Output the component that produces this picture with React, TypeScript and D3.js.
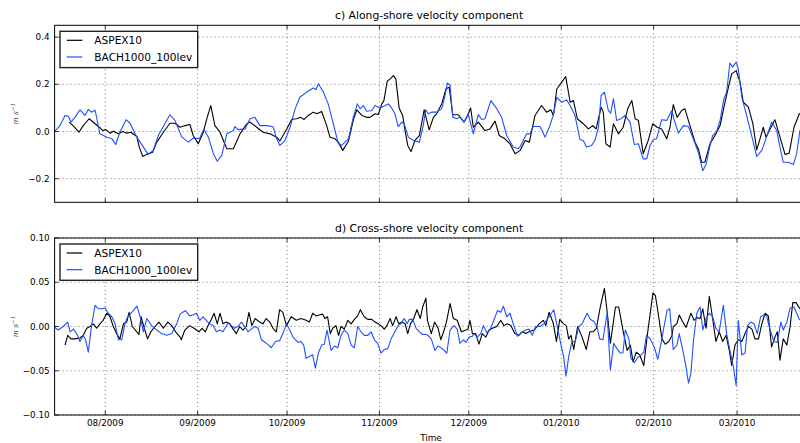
import React from "react";
import * as d3 from "d3";

// Day offsets are days after 15 Jul 2009 (UTC); values in m s^-1
const START = Date.UTC(2009, 6, 15);
const END = Date.UTC(2010, 2, 24);

const seriesNames = ["ASPEX10", "BACH1000_100lev"];
const seriesColors = ["#000000", "#1f4fff"];

const monthTicks = ["2009-08-01", "2009-09-01", "2009-10-01", "2009-11-01", "2009-12-01", "2010-01-01", "2010-02-01", "2010-03-01"];
const alongTicks = [-0.2, 0.0, 0.2, 0.4];
const crossTicks = [-0.1, -0.05, 0.0, 0.05, 0.1];

const alongAspex: [number, number][] = [
  [4.9, 0.04], [6.5, 0.021], [8.2, -0.003], [9.6, 0.025], [11.6, 0.054], [13.6, 0.033], [15.2, 0.016], [16.1, 0.004],
  [17.2, 0.008], [18.6, -0.007], [19.7, 0.001], [21.4, -0.01], [22.9, 0], [24.2, -0.007], [25.6, -0.003], [27.6, -0.021],
  [28.4, -0.066], [29.6, -0.106], [30.9, -0.097], [32.9, -0.088], [34.3, -0.045], [36.5, -0.003], [38.7, 0.035], [40.4, 0.035],
  [42.1, 0.018], [43.8, 0.025], [45.4, 0.03], [46.5, -0.017], [48.2, -0.052], [49.9, -0.003], [51.2, 0.06], [52.4, 0.11],
  [53.8, 0.025], [55.5, -0.003], [57.8, -0.073], [60.0, -0.073], [62.2, -0.01], [64.5, 0.033], [65.6, 0.04], [67.8, 0.018],
  [70.0, -0.003], [72.3, -0.01], [74.5, -0.024], [75.6, -0.04], [77.9, 0.011], [79.6, 0.052], [81.2, 0.054], [82.6, 0.06],
  [83.7, 0.051], [85.1, 0.068], [86.8, 0.082], [88.0, 0.075], [89.6, 0.085], [91.3, 0.025], [92.4, -0.024], [94.1, -0.031],
  [95.2, -0.045], [96.7, -0.08], [98.6, -0.041], [100.2, 0.047], [101.4, 0.092], [103.1, 0.068], [104.7, 0.06], [105.8, 0.06],
  [107.5, 0.075], [108.6, 0.072], [109.8, 0.117], [110.5, 0.131], [111.6, 0.213], [112.6, 0.223], [113.7, 0.237], [114.5, 0.223],
  [115.6, 0.1], [116.8, 0.068], [117.6, 0.004], [118.5, -0.059], [119.6, -0.085], [120.9, -0.038], [122.4, -0.017], [124.0, 0.092],
  [125.7, 0.007], [127.1, 0.06], [128.2, 0.075], [129.9, 0.117], [131.3, 0.18], [132.4, 0.188], [133.6, 0.071], [135.5, 0.071],
  [137.4, 0.04], [138.6, 0.068], [139.6, 0.1], [140.5, 0.018], [142.2, 0.04], [144.4, 0.004], [146.1, 0.011], [147.8, 0.044],
  [149.2, -0.017], [151.1, -0.031], [152.8, -0.052], [154.5, -0.094], [156.2, -0.08], [157.9, -0.038], [159.3, -0.045], [161.2, 0.068],
  [163.4, 0.11], [165.1, 0.082], [166.5, 0.092], [167.4, 0.068], [168.5, 0.18], [170.2, 0.209], [171.5, 0.233], [173.0, 0.124],
  [174.1, 0.131], [175.4, 0.054], [177.4, 0.033], [179.1, 0.011], [180.6, 0.025], [181.7, 0.011], [183.4, 0.103], [184.1, 0.082],
  [185.0, -0.052], [186.4, -0.066], [187.5, 0.033], [189.2, -0.01], [190.8, 0.018], [192.3, 0.096], [193.7, 0.131], [194.8, 0.054],
  [195.9, 0.047], [197.5, -0.094], [199.2, -0.038], [200.7, 0.033], [202.2, 0.018], [203.7, 0.011], [205.4, -0.031], [206.5, 0.018],
  [207.6, 0.114], [208.9, 0.06], [210.4, 0.089], [211.5, 0.096], [213.2, 0.025], [214.9, -0.045], [216.0, -0.073], [217.1, -0.13],
  [218.2, -0.13], [219.9, -0.052], [221.6, -0.017], [223.3, 0.025], [224.6, 0.103], [226.1, 0.188], [227.2, 0.244], [228.7, 0.258],
  [230.0, 0.209], [231.1, 0.124], [232.8, 0.103], [234.3, 0.033], [235.6, -0.078], [236.7, -0.031], [237.8, 0.018], [238.7, -0.024],
  [240.1, 0.011], [241.7, 0.05], [243.4, -0.024], [245.1, -0.097], [246.5, -0.092], [248.1, 0.018], [249.9, 0.075], [251.5, 0.09],
];

const alongBach: [number, number][] = [
  [0, 0.0], [1.8, 0.025], [3.5, 0.068], [4.6, 0.065], [5.5, 0.04], [6.8, 0.06], [8.5, 0.092], [10.2, 0.068],
  [11.3, 0.093], [12.4, 0.082], [13.6, 0.09], [15.2, -0.01], [17.5, -0.024], [19.2, -0.03], [20.5, -0.055], [21.9, -0.003],
  [24.0, 0.05], [25.3, 0.035], [27.6, -0.024], [29.8, -0.066], [31.4, -0.097], [33.1, -0.08], [34.8, -0.017], [37.0, 0.033],
  [38.7, 0.071], [40.4, 0.047], [42.7, -0.024], [44.9, -0.045], [46.5, -0.028], [48.6, -0.031], [50.1, 0.011], [51.6, -0.024],
  [53.3, -0.095], [54.6, -0.126], [56.1, -0.1], [57.8, -0.01], [60.0, 0.004], [60.5, 0.021], [61.6, 0.008], [63.9, 0.011],
  [65.6, 0.054], [67.2, 0.06], [68.9, 0.025], [71.2, 0.025], [73.3, 0.02], [74.5, -0.03], [75.6, -0.059], [77.3, -0.038],
  [79.0, 0.018], [80.7, 0.096], [82.3, 0.145], [84.6, 0.167], [86.8, 0.184], [87.7, 0.177], [88.5, 0.202], [90.2, 0.167],
  [91.8, 0.117], [93.5, 0.033], [95.2, -0.05], [96.3, -0.059], [98.6, -0.031], [100.2, 0.06], [101.6, 0.117], [102.5, 0.096],
  [103.6, 0.11], [104.7, 0.086], [106.4, 0.089], [107.5, 0.11], [109.2, 0.099], [110.9, 0.11], [112.0, 0.117], [113.1, 0.1],
  [114.2, 0.075], [115.3, 0.021], [116.5, 0.04], [117.3, 0.033], [118.7, -0.024], [120.4, -0.038], [122.4, -0.045], [123.7, 0.025],
  [124.5, 0.092], [125.4, 0.075], [126.5, 0.082], [128.2, 0.082], [129.9, 0.096], [131.0, 0.152], [131.8, 0.206], [132.7, 0.195],
  [133.6, 0.06], [134.9, 0.054], [136.0, 0.06], [137.4, 0.04], [138.8, 0.075], [140.5, -0.01], [142.2, 0.072], [143.3, 0.051],
  [144.4, 0.054], [146.4, 0.131], [148.4, 0.096], [150.0, 0.06], [151.7, -0.017], [153.9, -0.066], [155.6, -0.073], [156.2, -0.064],
  [158.4, -0.01], [159.5, -0.01], [160.6, 0.021], [162.9, 0.021], [164.6, -0.024], [166.2, 0.025], [167.3, 0.068], [168.5, 0.145],
  [170.2, 0.124], [171.8, 0.134], [173.0, 0.11], [174.6, 0.068], [176.3, -0.035], [177.4, -0.038], [178.5, -0.066], [180.2, -0.059],
  [181.3, -0.038], [182.5, 0.018], [183.4, 0.152], [184.5, 0.167], [185.8, 0.089], [186.6, 0.078], [187.5, 0.139], [188.6, 0.047],
  [190.1, 0.054], [191.4, 0.068], [193.1, 0.04], [194.5, -0.055], [195.9, -0.052], [197.5, -0.116], [198.7, -0.116], [199.8, -0.059],
  [200.9, -0.035], [202.0, -0.031], [203.7, 0.05], [205.4, 0.047], [207.1, 0.089], [207.8, 0.054], [209.3, -0.007], [211.0, 0.025],
  [212.7, 0.021], [214.3, -0.031], [216.0, -0.088], [217.5, -0.166], [218.6, -0.14], [219.7, -0.073], [220.8, -0.017], [222.2, 0.001],
  [223.3, 0.047], [224.6, 0.139], [225.5, 0.167], [226.6, 0.29], [227.5, 0.273], [228.7, 0.294], [229.4, 0.266], [230.6, 0.145],
  [232.2, 0.068], [233.9, -0.017], [235.6, -0.106], [237.3, -0.08], [238.9, -0.024], [240.6, 0.04], [242.3, 0.004], [243.4, -0.066],
  [244.5, -0.13], [246.2, -0.13], [247.9, -0.14], [249.0, -0.094], [250.1, 0.004], [251.5, 0.03],
];

const crossAspex: [number, number][] = [
  [3.5, -0.021], [4.4, -0.01], [5.5, -0.014], [6.8, -0.014], [8.5, -0.013], [9.6, -0.01], [10.8, -0.002], [11.9, 0],
  [13.0, 0.003], [14.1, -0.002], [15.2, 0.003], [16.3, 0.007], [17.5, 0.015], [18.6, 0.011], [19.7, 0], [20.8, -0.008],
  [21.9, -0.014], [23.1, 0.003], [24.2, 0.005], [25.0, 0.016], [26.1, 0], [27.6, -0.006], [28.3, -0.009], [29.0, 0.011],
  [30.1, -0.002], [31.2, -0.014], [32.3, -0.006], [33.7, 0], [35.0, 0.005], [36.5, -0.002], [38.0, 0.005], [39.3, 0.001],
  [40.6, -0.006], [42.1, -0.012], [42.5, -0.015], [43.7, -0.004], [45.3, 0.001], [46.8, -0.002], [48.4, -0.006], [49.5, -0.002],
  [50.6, -0.006], [51.5, 0.001], [52.6, 0.008], [53.5, 0.015], [54.6, 0.003], [55.5, 0.015], [56.5, 0.003], [57.6, 0.005],
  [58.8, 0.003], [59.9, -0.003], [61.0, -0.008], [62.1, 0], [63.2, -0.004], [64.3, 0], [65.2, 0.016], [66.2, 0.001],
  [67.3, 0.009], [68.8, 0.005], [69.9, 0.003], [71.0, 0.009], [72.2, 0.005], [73.3, -0.002], [74.4, -0.006], [75.5, 0.019],
  [76.6, 0.016], [77.8, 0.001], [79.4, 0.011], [81.1, 0.007], [82.7, 0.009], [84.4, 0.007], [85.5, 0.005], [86.6, 0.015],
  [87.7, 0.012], [88.8, 0.013], [89.9, 0.014], [90.7, 0.009], [91.6, 0.011], [92.5, -0.008], [93.3, -0.002], [94.4, 0.001],
  [95.3, -0.01], [96.1, 0], [97.2, -0.003], [98.4, 0.007], [99.5, 0.003], [100.6, 0.008], [101.7, 0.012], [102.6, 0.019],
  [103.9, 0.011], [105.1, 0.008], [106.4, 0.008], [107.5, 0.005], [108.6, 0.003], [109.8, 0], [110.6, -0.003], [111.5, 0.001],
  [112.6, 0.009], [113.4, 0.001], [114.6, 0.011], [115.5, 0.003], [116.5, 0.005], [117.6, 0.003], [118.5, -0.008], [119.4, 0.003],
  [120.5, 0.009], [121.6, 0.019], [122.7, 0.009], [123.5, 0.022], [124.6, 0.032], [125.1, 0.007], [126.4, -0.008], [127.5, 0.005],
  [128.7, -0.002], [129.6, -0.015], [130.9, -0.002], [131.6, 0.007], [132.7, 0.026], [133.8, 0.009], [135.1, 0.007], [136.5, -0.006],
  [138.0, -0.004], [138.7, -0.003], [139.4, 0.007], [140.2, -0.008], [141.3, -0.008], [142.4, -0.02], [143.5, -0.008], [144.7, -0.012],
  [145.8, -0.004], [146.9, -0.002], [148.4, 0], [149.7, 0.007], [150.8, 0.001], [151.9, 0.003], [153.1, 0.001], [154.4, -0.008],
  [155.8, -0.01], [156.9, -0.006], [158.1, -0.008], [159.2, -0.006], [160.9, -0.004], [162.6, 0.003], [164.0, 0.007], [164.8, 0.001],
  [165.9, 0.016], [166.3, 0.013], [167.3, 0.004], [168.4, -0.017], [169.5, 0.008], [170.8, 0.003], [171.7, 0.001], [172.5, -0.014],
  [173.3, -0.01], [174.2, -0.026], [175.5, 0], [177.0, -0.012], [178.4, -0.026], [179.6, -0.006], [180.7, -0.006], [181.8, -0.002],
  [183.1, 0.022], [184.5, 0.043], [185.6, 0.011], [186.5, -0.019], [188.2, 0.022], [189.3, 0.022], [190.7, -0.004], [192.1, -0.027],
  [193.2, -0.021], [194.1, -0.04], [195.2, -0.029], [196.3, -0.032], [197.7, -0.044], [198.8, -0.012], [199.9, 0.016], [200.8, 0.038],
  [201.6, 0.035], [202.7, 0.011], [203.8, -0.014], [204.9, -0.02], [206.1, -0.017], [207.2, -0.01], [207.6, 0], [208.8, 0.003],
  [209.6, 0.013], [210.8, 0.005], [211.9, -0.001], [213.5, 0.015], [214.6, 0.007], [215.5, 0.01], [216.6, 0.009], [217.5, 0.02],
  [218.6, -0.002], [219.7, 0.034], [220.8, 0.009], [221.9, -0.017], [223.0, -0.006], [224.2, -0.017], [225.3, -0.01], [226.4, -0.027],
  [227.2, -0.044], [228.3, -0.021], [229.4, -0.015], [230.6, -0.017], [231.7, -0.008], [232.8, 0], [234.0, -0.003], [235.0, -0.014],
  [236.2, -0.014], [237.3, 0.003], [238.4, 0.015], [239.5, 0.012], [240.6, -0.023], [241.7, -0.012], [242.5, -0.006], [243.4, -0.038],
  [244.5, -0.014], [245.7, -0.021], [246.8, 0], [247.7, 0.027], [248.8, 0.027], [249.9, 0.021], [251.5, 0.015],
];

const crossBach: [number, number][] = [
  [0.1, -0.001], [1.2, -0.004], [2.9, 0], [4.4, 0.005], [5.2, -0.006], [6.3, -0.003], [7.4, -0.008], [8.5, -0.017],
  [9.6, -0.01], [10.4, -0.015], [11.3, -0.029], [12.4, 0.001], [13.6, 0.024], [14.7, 0.02], [15.8, 0.02], [16.9, 0.021],
  [18.0, 0.015], [19.2, 0.011], [20.3, 0.003], [21.4, -0.015], [22.5, -0.015], [23.6, 0.003], [24.5, 0.011], [26.4, 0.018],
  [27.6, 0.023], [28.7, 0.011], [29.8, -0.006], [30.9, 0.009], [32.6, 0.001], [34.3, -0.004], [35.9, -0.008], [37.6, -0.01],
  [39.3, -0.008], [41.0, 0.003], [42.1, 0.014], [43.9, 0.018], [45.3, 0.012], [46.4, 0.013], [47.6, 0.015], [48.7, 0.007],
  [49.8, 0.011], [50.9, 0.007], [52.0, 0.003], [53.2, 0.001], [54.3, -0.006], [55.4, -0.004], [56.5, -0.006], [58.2, 0.004],
  [59.3, 0.001], [60.4, -0.002], [61.5, 0], [62.7, 0.005], [63.8, 0], [64.9, -0.006], [66.0, -0.003], [67.1, 0],
  [68.3, -0.002], [69.4, -0.015], [70.7, -0.018], [71.8, -0.021], [72.7, -0.024], [74.1, -0.017], [75.5, -0.016], [76.6, -0.008],
  [77.8, 0.003], [78.9, -0.004], [80.0, -0.012], [81.7, -0.018], [82.7, -0.017], [83.6, -0.021], [84.4, -0.036], [85.5, -0.034],
  [86.6, -0.032], [87.5, -0.047], [88.5, -0.03], [89.6, -0.021], [90.5, -0.02], [91.4, -0.004], [92.8, -0.027], [93.9, -0.022],
  [95.0, -0.024], [96.1, -0.01], [97.2, -0.004], [98.4, -0.008], [99.5, -0.021], [100.6, -0.024], [101.7, 0], [102.8, -0.006],
  [103.9, -0.01], [105.1, -0.01], [106.2, -0.006], [107.3, -0.015], [108.4, -0.019], [109.5, -0.03], [110.6, -0.026], [111.8, -0.025],
  [112.9, -0.014], [114.0, -0.007], [115.3, 0.001], [116.2, 0.003], [117.3, 0.009], [118.3, 0.003], [119.0, 0.008], [120.2, 0.008],
  [121.3, -0.002], [122.4, -0.006], [123.5, -0.009], [124.6, -0.009], [125.3, -0.01], [126.4, -0.014], [127.6, -0.027], [128.7, -0.022],
  [130.1, -0.025], [131.6, -0.03], [132.7, -0.004], [134.0, 0.001], [135.1, -0.003], [136.0, -0.019], [137.2, -0.015], [138.0, -0.018],
  [139.1, -0.012], [140.2, -0.011], [140.7, -0.008], [141.8, -0.012], [143.0, -0.008], [143.9, 0.001], [145.0, -0.007], [146.1, -0.004],
  [147.4, 0.007], [148.6, 0.018], [149.7, 0.016], [150.6, 0.023], [151.7, 0.011], [152.8, 0.015], [153.9, 0.003], [155.3, -0.011],
  [156.6, -0.007], [158.1, -0.004], [159.2, -0.003], [160.3, -0.01], [161.4, 0], [162.9, 0], [164.2, 0.003], [165.9, 0.011],
  [166.3, 0.013], [167.5, 0.019], [168.6, 0.001], [169.7, -0.017], [170.8, -0.034], [171.6, -0.056], [172.5, -0.034], [173.6, -0.017],
  [174.7, -0.017], [175.9, 0], [177.0, 0.003], [178.7, 0.015], [179.8, 0.008], [180.9, 0.006], [182.0, 0], [182.9, -0.014],
  [184.0, -0.015], [185.4, 0.015], [186.5, -0.049], [187.6, -0.019], [188.7, -0.025], [189.8, -0.03], [190.7, -0.03], [191.5, -0.004],
  [192.7, -0.014], [193.4, -0.036], [194.5, -0.041], [195.7, -0.035], [196.8, -0.032], [197.7, -0.029], [198.6, -0.01], [199.9, -0.014],
  [201.3, -0.024], [202.4, -0.037], [203.5, -0.019], [204.4, -0.002], [205.5, 0.018], [206.4, 0.02], [207.6, -0.026], [208.8, -0.021],
  [209.6, -0.008], [210.8, -0.027], [211.9, -0.046], [212.7, -0.064], [213.5, -0.053], [214.4, -0.015], [215.5, 0.015], [216.6, 0.022],
  [217.5, -0.004], [218.6, 0.009], [219.7, 0.015], [220.8, 0.011], [221.9, -0.002], [223.0, -0.006], [224.4, 0.024], [225.5, -0.008],
  [226.6, -0.027], [227.8, -0.046], [228.7, -0.067], [229.4, 0.007], [230.6, -0.032], [231.7, -0.03], [232.5, 0.001], [233.6, 0.005],
  [234.7, 0.003], [235.8, -0.008], [236.9, 0.011], [238.0, 0.013], [238.9, 0.012], [240.1, -0.004], [241.4, -0.017], [242.5, -0.018],
  [243.7, 0.005], [244.5, -0.004], [245.7, 0.005], [246.8, 0.021], [248.1, 0.022], [249.9, 0.008], [251.5, 0.004],
];

const FONT = "'DejaVu Sans', sans-serif";
const W = 800;
const H = 443;
const LEFT = 54.6;
const RIGHT = 805.6;

const x = d3.scaleUtc().domain([new Date(START), new Date(END)]).range([LEFT, RIGHT]);
const toDate = (d: number) => new Date(START + d * 864e5);

function Panel(props: {
  id: string;
  top: number;
  bottom: number;
  domain: [number, number];
  ticks: number[];
  fmt: (v: number) => string;
  title: string;
  data: [number, number][][];
  showX: boolean;
}) {
  const { id, top, bottom, domain, ticks, fmt, title, data, showX } = props;
  const y = d3.scaleLinear().domain(domain).range([bottom, top]);
  const line = d3
    .line<[number, number]>()
    .x((d) => x(toDate(d[0])))
    .y((d) => y(d[1]));
  const months = monthTicks.map((s) => new Date(s + "T00:00:00Z"));
  const tf = d3.utcFormat("%m/%Y");
  const midY = (top + bottom) / 2;
  return (
    <g>
      <defs>
        <clipPath id={id}>
          <rect x={LEFT} y={top} width={RIGHT - LEFT} height={bottom - top} />
        </clipPath>
      </defs>
      <rect x={LEFT} y={top} width={RIGHT - LEFT} height={bottom - top} fill="#fff" />
      {/* grid */}
      {months.map((m, i) => (
        <line key={"gx" + i} x1={x(m)} x2={x(m)} y1={top} y2={bottom} stroke="#555" strokeWidth={0.8} strokeDasharray="1,3" />
      ))}
      {ticks.map((t, i) => (
        <line key={"gy" + i} x1={LEFT} x2={RIGHT} y1={y(t)} y2={y(t)} stroke="#555" strokeWidth={0.8} strokeDasharray="1,3" />
      ))}
      {/* series */}
      <g clipPath={`url(#${id})`}>
        {data.map((s, i) => (
          <path key={"s" + i} d={line(s) || ""} fill="none" stroke={seriesColors[i]} strokeWidth={1.1} strokeLinejoin="round" />
        ))}
      </g>
      {/* ticks inward */}
      {months.map((m, i) => (
        <g key={"tx" + i}>
          <line x1={x(m)} x2={x(m)} y1={bottom} y2={bottom - 4} stroke="#000" strokeWidth={0.8} />
          <line x1={x(m)} x2={x(m)} y1={top} y2={top + 4} stroke="#000" strokeWidth={0.8} />
        </g>
      ))}
      {ticks.map((t, i) => (
        <line key={"ty" + i} x1={LEFT} x2={LEFT + 4} y1={y(t)} y2={y(t)} stroke="#000" strokeWidth={0.8} />
      ))}
      {/* frame */}
      <rect x={LEFT} y={top} width={RIGHT - LEFT} height={bottom - top} fill="none" stroke="#000" strokeWidth={1} />
      {/* y tick labels */}
      {ticks.map((t, i) => (
        <text key={"yl" + i} x={LEFT - 5} y={y(t)} dy="0.35em" textAnchor="end" fontSize={8.8} fontFamily={FONT} fill="#000">
          {fmt(t)}
        </text>
      ))}
      {showX &&
        months.map((m, i) => (
          <text key={"xl" + i} x={x(m)} y={426} textAnchor="middle" fontSize={8.8} fontFamily={FONT} fill="#000">
            {tf(m)}
          </text>
        ))}
      {/* title */}
      <text x={(LEFT + RIGHT) / 2 - 1} y={top - 6} textAnchor="middle" fontSize={10.8} fontFamily={FONT} fill="#000">
        {title}
      </text>
      {/* y label */}
      <text
        transform={`translate(18,${midY}) rotate(-90)`}
        textAnchor="middle"
        fontSize={7.5}
        fontFamily="'DejaVu Serif', serif"
        fontStyle="italic"
        fill="#444"
      >
        m s<tspan dy={-3} fontSize={5.5}>−1</tspan>
      </text>
      {/* legend */}
      <g>
        <rect x={60} y={top + 6} width={137.7} height={36.3} fill="#fff" stroke="#222" strokeWidth={1.4} />
        {seriesNames.map((n, i) => (
          <g key={"lg" + i}>
            <line x1={66.7} x2={82.3} y1={top + 15 + i * 16.7} y2={top + 15 + i * 16.7} stroke={seriesColors[i]} strokeWidth={1.2} />
            <text x={94.3} y={top + 15 + i * 16.7} dy="0.36em" fontSize={10.6} fontFamily={FONT} fill="#000">
              {n}
            </text>
          </g>
        ))}
      </g>
    </g>
  );
}

export default function App() {
  const fmtAlong = (v: number) => d3.format(".1f")(v).replace("-", "−");
  const fmtCross = (v: number) => d3.format(".2f")(v).replace("-", "−");
  return (
    <svg
      width={W}
      height={H}
      viewBox={`0 0 ${W} ${H}`}
      style={{ position: "absolute", left: 0, top: 0, background: "#fff", display: "block" }}
    >
      <rect x={0} y={0} width={W} height={H} fill="#fff" />
      <Panel
        id="clipA"
        top={25.3}
        bottom={202.3}
        domain={[-0.3, 0.45]}
        ticks={alongTicks}
        fmt={fmtAlong}
        title="c) Along-shore velocity component"
        data={[alongAspex, alongBach]}
        showX={false}
      />
      <Panel
        id="clipB"
        top={238}
        bottom={415}
        domain={[-0.1, 0.1]}
        ticks={crossTicks}
        fmt={fmtCross}
        title="d) Cross-shore velocity component"
        data={[crossAspex, crossBach]}
        showX={true}
      />
      <text x={431} y={441} textAnchor="middle" fontSize={8.8} fontFamily={FONT} fill="#000">
        Time
      </text>
    </svg>
  );
}
